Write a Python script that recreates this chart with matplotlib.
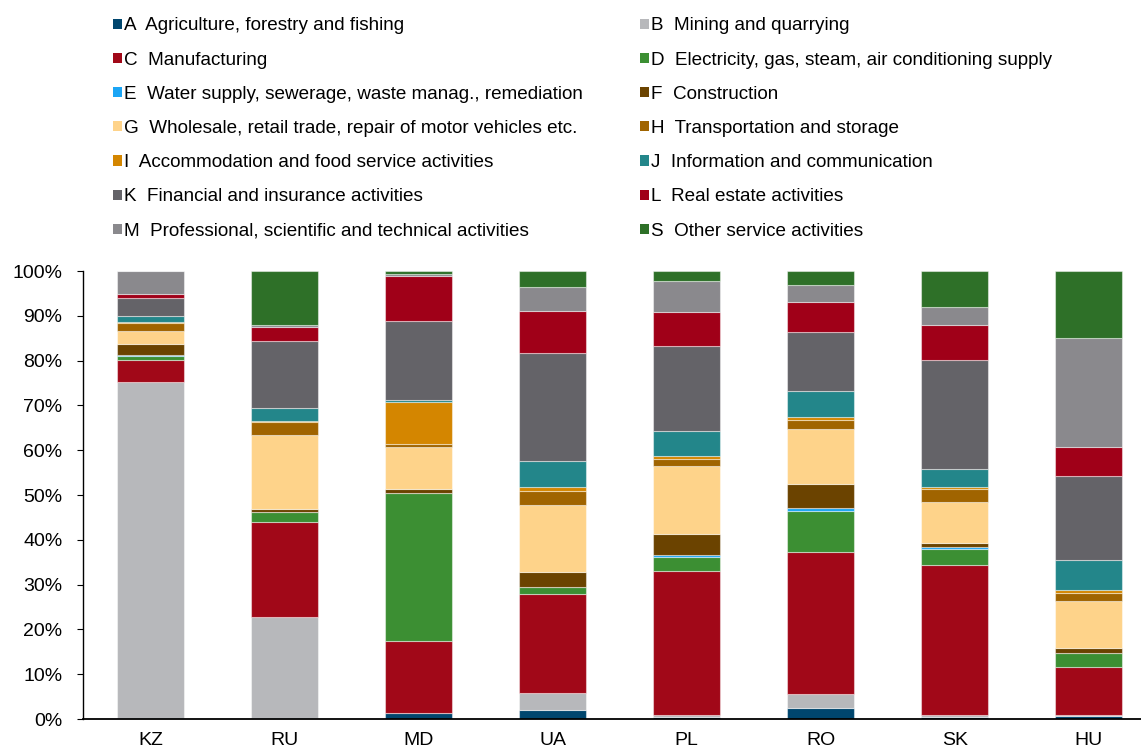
"""
Gross value added structure by sector, stacked 100% bars
"""

import numpy as np
import matplotlib
matplotlib.use("Agg")
import matplotlib.pyplot as plt
from matplotlib.patches import Patch
from matplotlib.ticker import FuncFormatter

plt.rcParams['font.family'] = ['Liberation Sans', 'DejaVu Sans']

countries = ["KZ", "RU", "MD", "UA", "PL", "RO", "SK", "HU"]

# shares in %, per sector, order of countries as above
A = [0.2, 0.3, 1.3, 1.9, 0.4, 2.5, 0.4, 0.7]
B = [75.0, 22.5, 0.0, 3.9, 0.4, 3.1, 0.6, 0.3]
C = [5.0, 21.1, 16.1, 22.2, 32.3, 31.6, 33.4, 10.6]
D = [0.9, 2.2, 33.0, 1.5, 3.1, 9.2, 3.6, 3.1]
E = [0.1, 0.1, 0.0, 0.0, 0.4, 0.7, 0.4, 0.1]
F = [2.5, 0.6, 1.0, 3.3, 4.7, 5.4, 1.0, 1.0]
G = [3.0, 16.5, 9.4, 15.0, 15.2, 12.3, 9.0, 10.6]
H = [1.6, 3.0, 0.6, 3.1, 1.6, 1.9, 2.9, 1.7]
I = [0.4, 0.2, 9.4, 0.9, 0.7, 0.8, 0.5, 0.6]
J = [1.2, 3.0, 0.4, 5.8, 5.5, 5.7, 4.0, 6.8]
K = [4.0, 14.8, 17.7, 24.1, 18.9, 13.2, 24.4, 18.7]
L = [0.9, 3.2, 10.0, 9.4, 7.7, 6.7, 7.7, 6.5]
M = [5.2, 0.4, 0.4, 5.4, 6.9, 3.8, 4.1, 24.3]
S = [0.0, 12.1, 0.7, 3.5, 2.2, 3.1, 8.0, 15.0]

labels = ["A  Agriculture, forestry and fishing",
          "B  Mining and quarrying",
          "C  Manufacturing",
          "D  Electricity, gas, steam, air conditioning supply",
          "E  Water supply, sewerage, waste manag., remediation",
          "F  Construction",
          "G  Wholesale, retail trade, repair of motor vehicles etc.",
          "H  Transportation and storage",
          "I  Accommodation and food service activities",
          "J  Information and communication",
          "K  Financial and insurance activities",
          "L  Real estate activities",
          "M  Professional, scientific and technical activities",
          "S  Other service activities"]
colours = ["#00466e", "#b7b8bb", "#a10818", "#3c8f33", "#1ba5f5", "#6b4300",
           "#fed38a", "#a06400", "#d48600", "#23868a", "#646368", "#a00018",
           "#8a898d", "#2e7028"]
series = [A, B, C, D, E, F, G, H, I, J, K, L, M, S]

fig = plt.figure(figsize=(11.41, 7.51), dpi=100)
ax = fig.add_axes([0.0727, 0.0426, 0.9273, 0.5965])

x = np.arange(len(countries))
bottom = np.zeros(len(countries))
for vals, colour in zip(series, colours):
  vals = np.array(vals)
  ax.bar(x, vals, 0.5, bottom=bottom, color=colour,
         edgecolor=(1, 1, 1, 0.45), linewidth=0.8)
  bottom += vals

ax.set_xlim(-0.504, 7.39)
ax.set_ylim(0, 100)
ax.set_yticks(np.arange(0, 101, 10))
ax.yaxis.set_major_formatter(FuncFormatter(lambda v, p: "%d%%" % v))
ax.set_xticks(x)
ax.set_xticklabels(countries)
ax.tick_params(axis='y', length=4.3, width=0.8, pad=10.5, labelsize=14)
ax.tick_params(axis='x', length=0, pad=9, labelsize=14)
for side in ["top", "right"]:
  ax.spines[side].set_visible(False)
ax.spines["left"].set_linewidth(1.0)
ax.spines["bottom"].set_linewidth(1.3)

handles = [Patch(facecolor=c, edgecolor='none') for c in colours]
legend_kw = dict(frameon=False, fontsize=13.6, loc='upper left',
                 handlelength=0.45, handleheight=0.45, handletextpad=0.12,
                 labelspacing=0.91, borderpad=0, borderaxespad=0)
fig.legend(handles[0::2], labels[0::2],
           bbox_to_anchor=(113 / 1141, 1 - 17.5 / 751), **legend_kw)
fig.legend(handles[1::2], labels[1::2],
           bbox_to_anchor=(640 / 1141, 1 - 17.5 / 751), **legend_kw)

fig.savefig("out.png", dpi=100)
